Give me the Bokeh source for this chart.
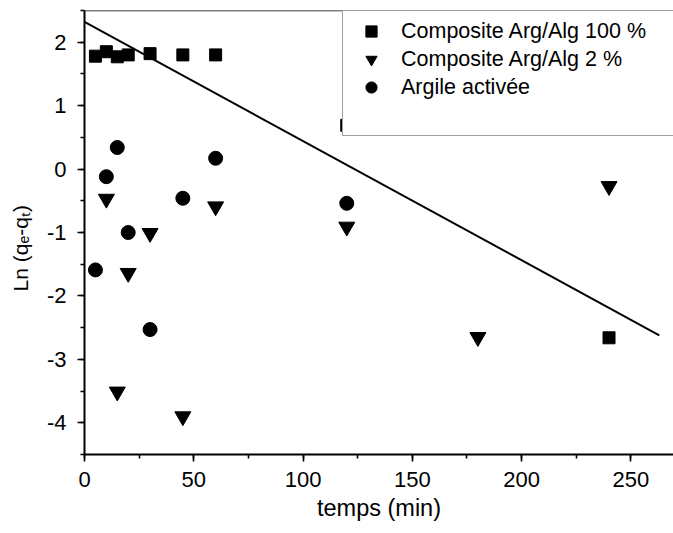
from bokeh.plotting import figure
from bokeh.models import (Range1d, SingleIntervalTicker, Legend, LegendItem, Span,
                          CustomJSTickFormatter)
from bokeh.embed import file_html
from bokeh.resources import INLINE

# ---- data ----
t_100 = [5, 10, 15, 20, 30, 45, 60, 120, 240]
ln_100 = [1.78, 1.85, 1.77, 1.80, 1.82, 1.80, 1.80, 0.69, -2.66]

t_2 = [10, 15, 20, 30, 45, 60, 120, 180, 240]
ln_2 = [-0.47, -3.51, -1.64, -1.01, -3.90, -0.59, -0.91, -2.65, -0.27]

t_act = [5, 10, 15, 20, 30, 45, 60, 120]
ln_act = [-1.59, -0.12, 0.34, -1.00, -2.53, -0.46, 0.17, -0.54]

fit_t = [0, 263]
fit_ln = [2.32, -2.62]

labels = ["Composite Arg/Alg 100 %", "Composite Arg/Alg 2 %", "Argile activée"]
x_title = "temps (min)"
y_title = "Ln (qₑ-qₜ)"

FONT = "Liberation Sans"

p = figure(width=673, height=533, output_backend="svg", toolbar_location=None,
           x_range=Range1d(0, 269.5), y_range=Range1d(-4.5, 2.5),
           min_border_left=84, min_border_right=0, min_border_top=10, min_border_bottom=79)
p.outline_line_color = None
p.background_fill_color = "white"
p.border_fill_color = "white"
p.xgrid.visible = False
p.ygrid.visible = False

r_fit = p.line(fit_t, fit_ln, line_color="black", line_width=2)
r_sq = p.scatter(t_100, ln_100, marker="square", size=12, color="black")
r_tri = p.scatter(t_2, ln_2, marker="inverted_triangle", size=16, color="black")
r_cir = p.scatter(t_act, ln_act, marker="circle", size=14, color="black")
r_dummy = p.scatter(x=[], y=[], marker="circle", size=1, fill_alpha=0, line_alpha=0)

fmt = CustomJSTickFormatter(code="return tick.toFixed(0);")
for ax in (p.xaxis[0], p.yaxis[0]):
    ax.axis_line_width = 2
    ax.axis_line_color = "black"
    ax.major_tick_line_width = 1.6
    ax.minor_tick_line_width = 1.6
    ax.major_tick_line_color = "black"
    ax.minor_tick_line_color = "black"
    ax.major_tick_in = 0
    ax.major_tick_out = 7
    ax.minor_tick_in = 0
    ax.minor_tick_out = 4
    ax.major_label_text_font = FONT
    ax.major_label_text_font_size = "22px"
    ax.major_label_text_color = "black"
    ax.formatter = fmt
    ax.axis_label_text_font = FONT
    ax.axis_label_text_font_style = "normal"
    ax.axis_label_text_color = "black"

p.xaxis[0].ticker = SingleIntervalTicker(interval=50, num_minor_ticks=2)
p.yaxis[0].ticker = SingleIntervalTicker(interval=1, num_minor_ticks=2)
p.xaxis[0].major_label_standoff = 10
p.yaxis[0].major_label_standoff = 11
p.xaxis[0].axis_label = x_title
p.xaxis[0].axis_label_text_font_size = "23.5px"
p.xaxis[0].axis_label_standoff = 5
# trailing em/en space keeps the title slightly below the frame centre, as in the reference
p.yaxis[0].axis_label = y_title + "\u2003\u2002"
p.yaxis[0].axis_label_text_font_size = "21px"
p.yaxis[0].axis_label_standoff = 12

# top frame line
p.add_layout(Span(location=2.5, dimension="width", line_color="black", line_width=1.5))

legend = Legend(items=[LegendItem(label=labels[0], renderers=[r_sq]),
                       LegendItem(label=labels[1], renderers=[r_tri]),
                       LegendItem(label=labels[2], renderers=[r_cir]),
                       LegendItem(label=" ", renderers=[r_dummy])],
                location=(258, 318), padding=6, spacing=0, margin=0,
                glyph_width=44, glyph_height=28, label_height=28, label_width=280,
                label_standoff=8, label_text_font=FONT, label_text_font_size="21.5px",
                label_text_color="black", border_line_color="#444444", border_line_width=1.3,
                background_fill_color="white", background_fill_alpha=1.0)
p.add_layout(legend)

open("out.html", "w").write(file_html(p, INLINE))
